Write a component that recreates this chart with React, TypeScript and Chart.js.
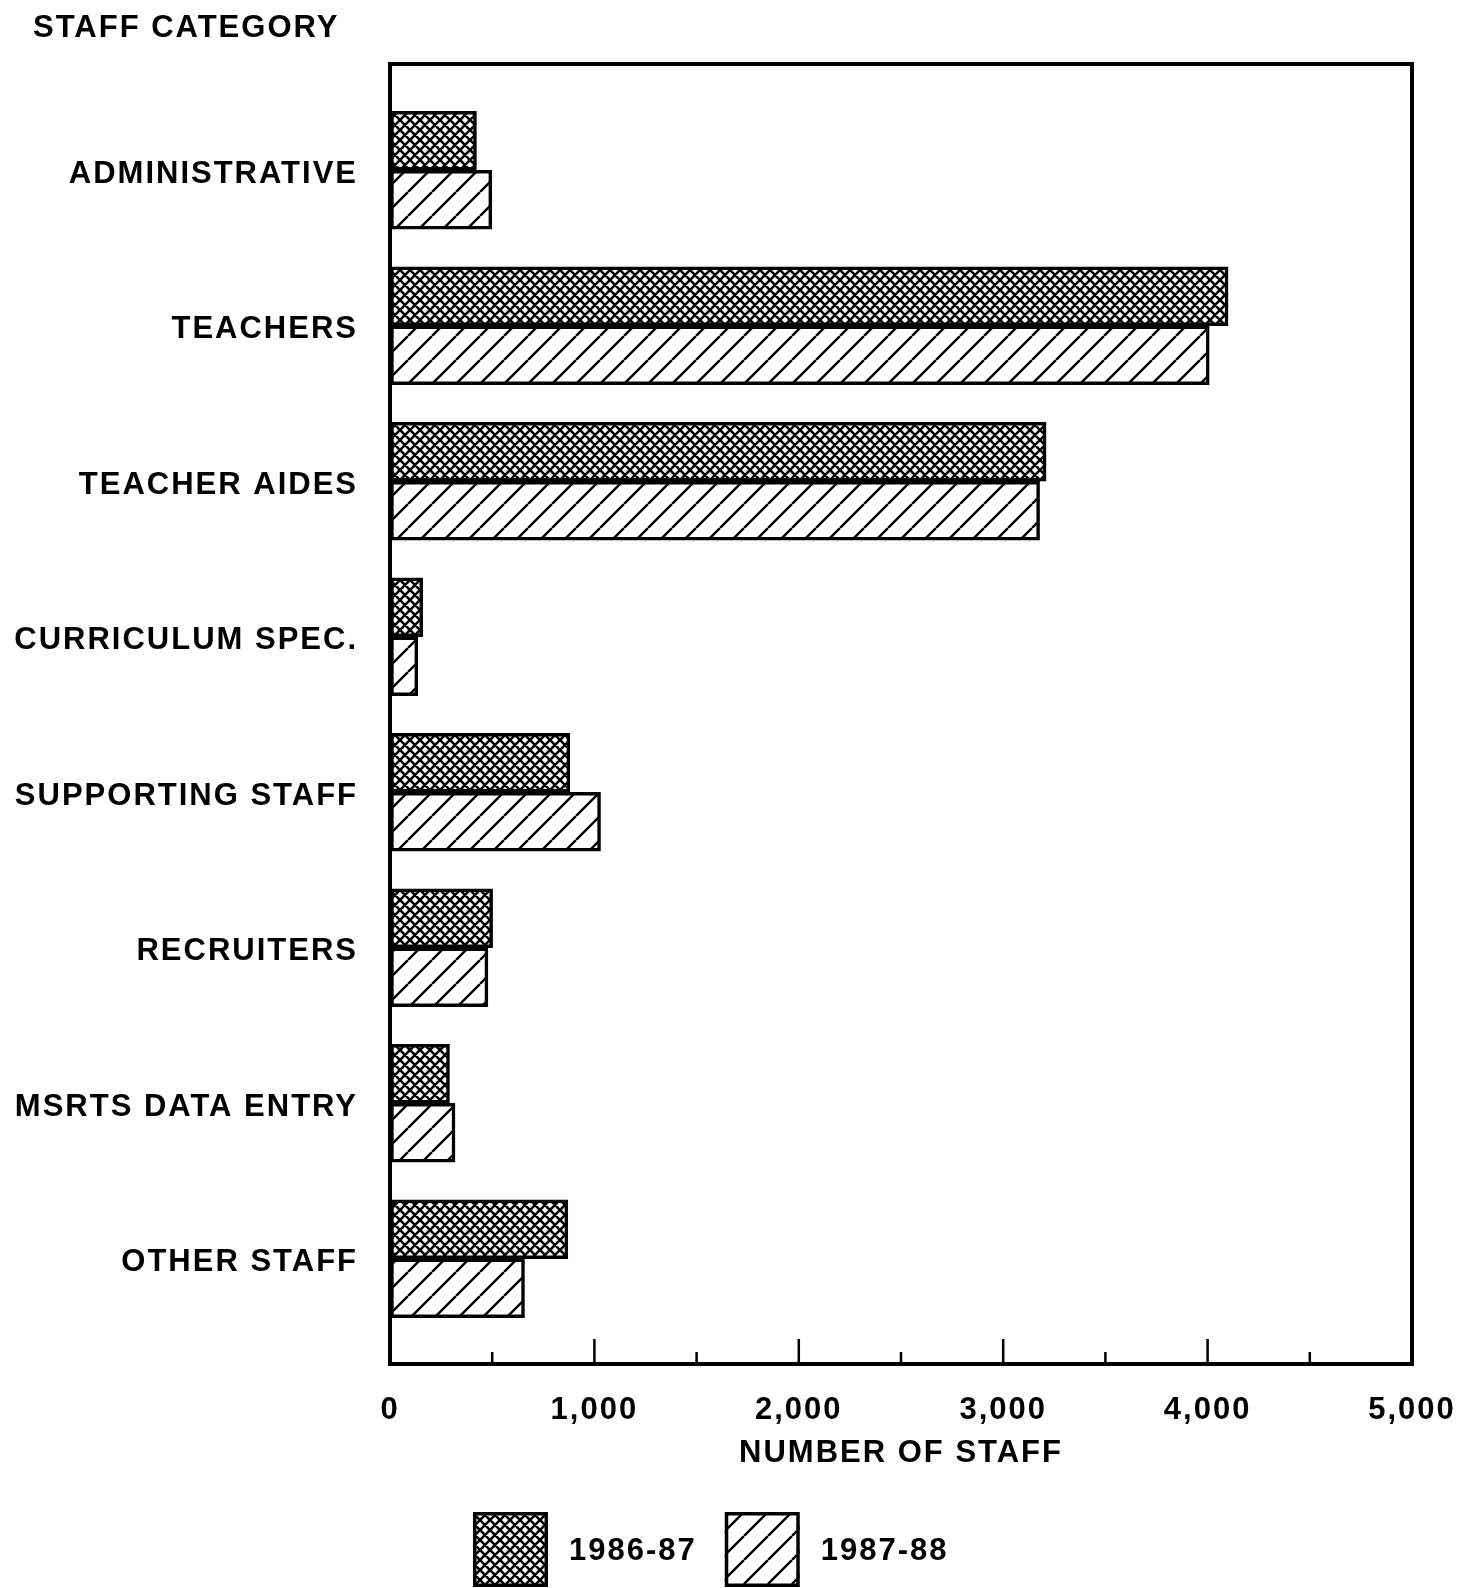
import React, { useEffect, useRef } from "react";
import { Chart, registerables } from "chart.js";

Chart.register(...registerables);

const categories = [
  "ADMINISTRATIVE",
  "TEACHERS",
  "TEACHER AIDES",
  "CURRICULUM SPEC.",
  "SUPPORTING STAFF",
  "RECRUITERS",
  "MSRTS DATA ENTRY",
  "OTHER STAFF",
];
const seriesLabels = ["1986-87", "1987-88"];
const staff1986 = [423, 4100, 3210, 160, 880, 502, 291, 870];
const staff1987 = [498, 4008, 3178, 136, 1030, 479, 318, 658];
const xTickValues = [0, 1000, 2000, 3000, 4000, 5000];
const minorTickValues = [500, 1500, 2500, 3500, 4500];
const majorTickValues = [1000, 2000, 3000, 4000];
const yAxisTitle = "STAFF CATEGORY";
const xAxisTitle = "NUMBER OF STAFF";

const FONT = "'Liberation Sans', Arial, Helvetica, sans-serif";
const FONT_SIZE = 31;
const LETTER_SPACING = "2px";
const W = 1470;
const H = 1588;

function makeCrossHatch(): CanvasPattern | string {
  const c = document.createElement("canvas");
  const P = 10;
  c.width = P;
  c.height = P;
  const g = c.getContext("2d")!;
  g.fillStyle = "#fff";
  g.fillRect(0, 0, P, P);
  g.strokeStyle = "#000";
  g.lineWidth = 2.6;
  g.beginPath();
  for (let k = -1; k <= 1; k++) {
    g.moveTo(k * P, P);
    g.lineTo(k * P + P, 0);
    g.moveTo(k * P, 0);
    g.lineTo(k * P + P, P);
  }
  g.stroke();
  return g.createPattern(c, "repeat") || "#888";
}

function makeDiagonal(): CanvasPattern | string {
  const c = document.createElement("canvas");
  const P = 24;
  c.width = P;
  c.height = P;
  const g = c.getContext("2d")!;
  g.fillStyle = "#fff";
  g.fillRect(0, 0, P, P);
  g.strokeStyle = "#000";
  g.lineWidth = 2.4;
  g.beginPath();
  for (let k = -1; k <= 1; k++) {
    g.moveTo(k * P, P);
    g.lineTo(k * P + P, 0);
  }
  g.stroke();
  return g.createPattern(c, "repeat") || "#ccc";
}

const spacingPlugin = {
  id: "spacing",
  beforeUpdate(chart: any) {
    chart.ctx.letterSpacing = LETTER_SPACING;
  },
  beforeDraw(chart: any) {
    chart.ctx.letterSpacing = LETTER_SPACING;
  },
};

const framePlugin = {
  id: "frame",
  afterDatasetsDraw(chart: any) {
    const { ctx, chartArea } = chart;
    const xs = chart.scales.x;
    ctx.save();
    ctx.strokeStyle = "#000";
    ctx.lineWidth = 4;
    ctx.strokeRect(
      chartArea.left,
      chartArea.top,
      chartArea.right - chartArea.left,
      chartArea.bottom - chartArea.top
    );
    ctx.lineWidth = 2.5;
    ctx.beginPath();
    majorTickValues.forEach((v) => {
      const px = xs.getPixelForValue(v);
      ctx.moveTo(px, chartArea.bottom);
      ctx.lineTo(px, chartArea.bottom - 25);
    });
    minorTickValues.forEach((v) => {
      const px = xs.getPixelForValue(v);
      ctx.moveTo(px, chartArea.bottom);
      ctx.lineTo(px, chartArea.bottom - 12);
    });
    ctx.stroke();
    ctx.restore();
  },
};

const titlePlugin = {
  id: "cornerTitle",
  afterDraw(chart: any) {
    const ctx = chart.ctx;
    ctx.save();
    ctx.font = `bold ${FONT_SIZE}px ${FONT}`;
    ctx.fillStyle = "#000";
    ctx.textBaseline = "middle";
    ctx.textAlign = "left";
    ctx.fillText(yAxisTitle, 33, 28);
    ctx.restore();
  },
};

const legendPlugin = {
  id: "patternLegend",
  afterDraw(chart: any) {
    const ctx = chart.ctx;
    const box = 75;
    const top = 1512;
    let x = 473;
    ctx.save();
    ctx.font = `bold ${FONT_SIZE}px ${FONT}`;
    ctx.textBaseline = "middle";
    ctx.textAlign = "left";
    chart.data.datasets.forEach((ds: any) => {
      ctx.fillStyle = ds.backgroundColor;
      ctx.fillRect(x, top, box, box);
      ctx.strokeStyle = "#000";
      ctx.lineWidth = 3.5;
      ctx.strokeRect(x + 1.75, top + 1.75, box - 3.5, box - 3.5);
      const tx = x + box + 21;
      ctx.fillStyle = "#000";
      ctx.fillText(ds.label, tx, top + box / 2 + 2);
      x = tx + ctx.measureText(ds.label).width + 28;
    });
    ctx.restore();
  },
};

export default function App() {
  const ref = useRef<HTMLCanvasElement | null>(null);

  useEffect(() => {
    document.body.style.margin = "0";
    const canvas = ref.current!;
    const cross = makeCrossHatch();
    const diag = makeDiagonal();
    const tickFont = { family: FONT, size: FONT_SIZE, weight: "bold" as const };

    const chart = new Chart(canvas, {
      type: "bar",
      data: {
        datasets: [
          {
            label: seriesLabels[0],
            data: staff1986.map((v, i) => ({ x: v, y: i })),
            backgroundColor: cross as any,
            borderColor: "#000",
            borderWidth: 3.5,
            borderSkipped: false,
            barThickness: 59,
          },
          {
            label: seriesLabels[1],
            data: staff1987.map((v, i) => ({ x: v, y: i })),
            backgroundColor: diag as any,
            borderColor: "#000",
            borderWidth: 3.5,
            borderSkipped: false,
            barThickness: 59,
          },
        ],
      },
      options: {
        indexAxis: "y",
        responsive: false,
        animation: false,
        layout: { padding: { left: 8, right: 58, top: 64, bottom: 81 } },
        plugins: {
          legend: { display: false },
          tooltip: { enabled: false },
          title: { display: false },
        },
        scales: {
          x: {
            type: "linear",
            min: 0,
            max: 5000,
            offset: false,
            grid: {
              display: true,
              drawOnChartArea: false,
              drawTicks: true,
              tickLength: 28,
              color: "rgba(0,0,0,0)",
            },
            border: { display: false },
            afterBuildTicks: (axis: any) => {
              axis.ticks = xTickValues.map((v) => ({ value: v }));
            },
            ticks: {
              color: "#000",
              font: tickFont,
              padding: 0,
              maxRotation: 0,
              callback: (v: any) => Number(v).toLocaleString("en-US"),
            },
            title: {
              display: true,
              text: xAxisTitle,
              color: "#000",
              font: tickFont,
              padding: { top: 5.2, bottom: 35.4 },
            },
          },
          y: {
            type: "linear",
            reverse: true,
            offset: false,
            min: -0.683,
            max: 7.677,
            grid: { display: false, drawTicks: false },
            border: { display: false },
            afterBuildTicks: (axis: any) => {
              axis.ticks = categories.map((_, i) => ({ value: i }));
            },
            afterFit: (axis: any) => {
              axis.width = 382;
            },
            ticks: {
              color: "#000",
              font: tickFont,
              padding: 32,
              labelOffset: 4,
              callback: (v: any) => categories[Math.round(Number(v))] ?? "",
            },
          },
        },
      } as any,
      plugins: [spacingPlugin, framePlugin, titlePlugin, legendPlugin],
    });

    return () => chart.destroy();
  }, []);

  return (
    <canvas
      ref={ref}
      width={W}
      height={H}
      style={{ display: "block", width: W, height: H }}
    />
  );
}
